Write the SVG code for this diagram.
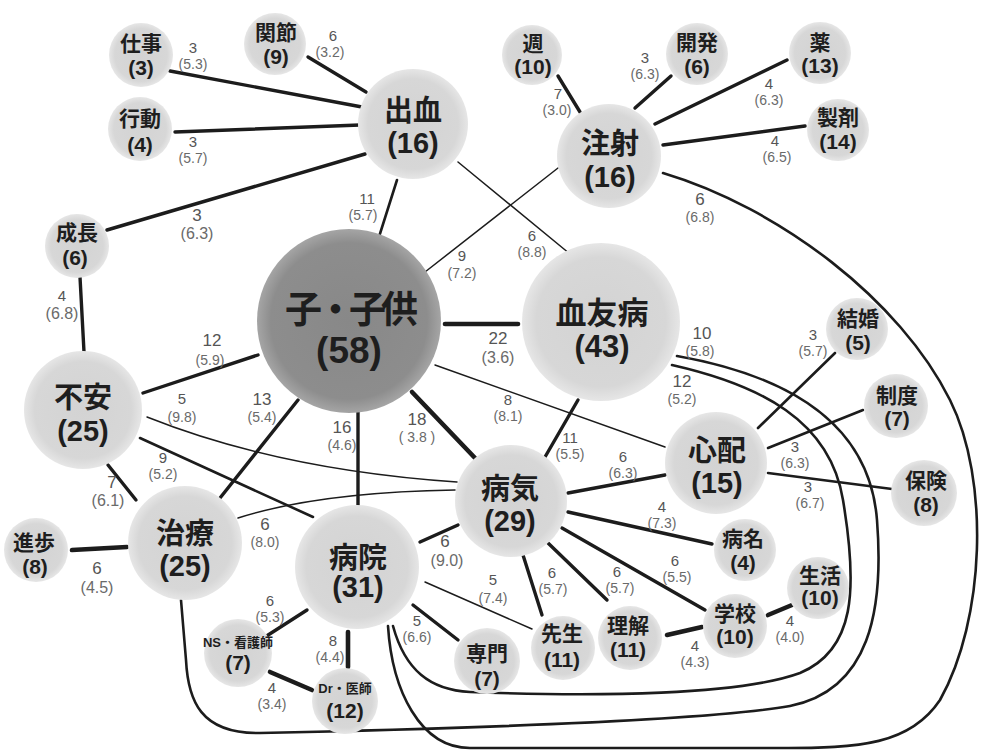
<svg xmlns="http://www.w3.org/2000/svg" width="981" height="752" viewBox="0 0 981 752">
<defs>
<radialGradient id="g" cx="50%" cy="50%" r="50%">
<stop offset="0" stop-color="#d3d3d3"/><stop offset="0.82" stop-color="#d7d7d7"/><stop offset="1" stop-color="#e6e6e6"/>
</radialGradient>
<radialGradient id="gd" cx="50%" cy="50%" r="50%">
<stop offset="0" stop-color="#888888"/><stop offset="0.85" stop-color="#8d8d8d"/><stop offset="1" stop-color="#a5a5a5"/>
</radialGradient>
<style>
text{font-family:"Liberation Sans","Noto Sans CJK JP",sans-serif;text-anchor:middle}
.n{fill:url(#g)}
.nd{fill:url(#gd)}
.lb{font-weight:bold;fill:#1e1e1e}
.s{font-size:21px}
.m{font-size:29px}
.e{fill:none;stroke:#1c1c1c;stroke-linecap:round}
.w1{stroke-width:1.5}
.w2{stroke-width:2.6}
.w3{stroke-width:3.4}
.w4{stroke-width:4.6}
.l{font-size:14px;fill:#6a6a6a}
.nu{font-size:15px;fill:#555}
.nuL{font-size:17px;fill:#555}
.paL{font-size:16px}
</style>
</defs>
<rect width="981" height="752" fill="#ffffff"/>
<g id="connectors">
<line class="e w3" x1="170" y1="71" x2="362" y2="107"/>
<line class="e w3" x1="308" y1="57" x2="366" y2="92"/>
<line class="e w3" x1="175" y1="132" x2="360" y2="125"/>
<line class="e w3" x1="107" y1="230" x2="365" y2="154"/>
<line class="e w2" x1="397" y1="180" x2="378" y2="240"/>
<line class="e w1" x1="458" y1="162" x2="570" y2="254"/>
<line class="e w1" x1="558" y1="168" x2="425" y2="272"/>
<line class="e w3" x1="558" y1="76" x2="580" y2="112"/>
<line class="e w3" x1="671" y1="76" x2="635" y2="108"/>
<line class="e w3" x1="787" y1="60" x2="655" y2="124"/>
<line class="e w3" x1="805" y1="126" x2="663" y2="145"/>
<path class="e w2" d="M663,173 C780,208 900,300 950,400 C990,480 985,620 940,700 C910,745 860,748 780,748 L470,748 C420,748 392,690 388,626"/>
<path class="e w2" d="M677,356 C800,378 870,430 877,520 C884,610 870,690 790,706 C700,722 400,730 260,733 C200,734 188,700 186,660 L181,600"/>
<path class="e w2" d="M672,365 C760,385 830,420 843,500 C858,590 855,650 800,673 C740,695 600,697 470,692 C430,690 405,670 393,626"/>
<line class="e w4" x1="445" y1="324" x2="518" y2="324"/>
<line class="e w1" x1="435" y1="365" x2="665" y2="447"/>
<line class="e w4" x1="412" y1="392" x2="475" y2="458"/>
<line class="e w3" x1="358" y1="412" x2="358" y2="505"/>
<line class="e w3" x1="298" y1="400" x2="220" y2="498"/>
<line class="e w3" x1="143" y1="393" x2="258" y2="355"/>
<line class="e w3" x1="578" y1="400" x2="545" y2="457"/>
<line class="e w3" x1="80" y1="277" x2="84" y2="352"/>
<path class="e w1" d="M147,417 Q280,470 457,482"/>
<line class="e w2" x1="140" y1="438" x2="313" y2="517"/>
<line class="e w3" x1="108" y1="465" x2="136" y2="500"/>
<path class="e w1" d="M238,518 Q320,492 455,490"/>
<line class="e w4" x1="72" y1="550" x2="127" y2="547"/>
<line class="e w3" x1="420" y1="542" x2="458" y2="525"/>
<line class="e w1" x1="425" y1="582" x2="532" y2="629"/>
<line class="e w3" x1="413" y1="605" x2="458" y2="640"/>
<line class="e w3" x1="307" y1="610" x2="265" y2="637"/>
<line class="e w4" x1="348" y1="632" x2="348" y2="667"/>
<line class="e w4" x1="270" y1="672" x2="312" y2="690"/>
<line class="e w3" x1="568" y1="493" x2="665" y2="475"/>
<line class="e w3" x1="568" y1="512" x2="712" y2="544"/>
<line class="e w3" x1="562" y1="528" x2="705" y2="610"/>
<line class="e w3" x1="548" y1="543" x2="607" y2="600"/>
<line class="e w3" x1="523" y1="555" x2="542" y2="615"/>
<line class="e w4" x1="667" y1="635" x2="702" y2="627"/>
<line class="e w4" x1="768" y1="615" x2="792" y2="605"/>
<line class="e w2" x1="758" y1="428" x2="835" y2="353"/>
<line class="e w2" x1="768" y1="448" x2="863" y2="410"/>
<line class="e w2" x1="768" y1="473" x2="892" y2="489"/>
</g>
<g id="edge-labels">
<text class="l"><tspan class="nu" x="193" y="53">3</tspan><tspan x="193" y="69">(5.3)</tspan></text>
<text class="l"><tspan class="nu" x="333" y="41">6</tspan><tspan x="330" y="57">(3.2)</tspan></text>
<text class="l"><tspan class="nu" x="193" y="147">3</tspan><tspan x="193" y="163">(5.7)</tspan></text>
<text class="l"><tspan class="nuL" x="197" y="221">3</tspan><tspan class="paL" x="197" y="239">(6.3)</tspan></text>
<text class="l"><tspan class="nu" x="367" y="204">11</tspan><tspan x="363" y="220">(5.7)</tspan></text>
<text class="l"><tspan class="nu" x="532" y="241">6</tspan><tspan x="532" y="257">(8.8)</tspan></text>
<text class="l"><tspan class="nu" x="462" y="261">9</tspan><tspan x="462" y="278">(7.2)</tspan></text>
<text class="l"><tspan class="nu" x="558" y="99">7</tspan><tspan x="557" y="115">(3.0)</tspan></text>
<text class="l"><tspan class="nu" x="645" y="63">3</tspan><tspan x="645" y="79">(6.3)</tspan></text>
<text class="l"><tspan class="nu" x="769" y="89">4</tspan><tspan x="769" y="105">(6.3)</tspan></text>
<text class="l"><tspan class="nu" x="775" y="146">4</tspan><tspan x="777" y="162">(6.5)</tspan></text>
<text class="l"><tspan class="nuL" x="700" y="205">6</tspan><tspan x="700" y="222">(6.8)</tspan></text>
<text class="l"><tspan class="nuL" x="702" y="339">10</tspan><tspan x="700" y="356">(5.8)</tspan></text>
<text class="l"><tspan class="nuL" x="682" y="387">12</tspan><tspan x="682" y="404">(5.2)</tspan></text>
<text class="l"><tspan class="nuL" x="498" y="344">22</tspan><tspan class="paL" x="498" y="363">(3.6)</tspan></text>
<text class="l"><tspan class="nu" x="508" y="405">8</tspan><tspan x="508" y="421">(8.1)</tspan></text>
<text class="l"><tspan class="nuL" x="417" y="425">18</tspan><tspan x="417" y="442">( 3.8 )</tspan></text>
<text class="l"><tspan class="nuL" x="342" y="433">16</tspan><tspan x="342" y="450">(4.6)</tspan></text>
<text class="l"><tspan class="nuL" x="262" y="405">13</tspan><tspan x="262" y="422">(5.4)</tspan></text>
<text class="l"><tspan class="nuL" x="212" y="346">12</tspan><tspan x="210" y="365">(5.9)</tspan></text>
<text class="l"><tspan class="nu" x="182" y="404">5</tspan><tspan x="182" y="422">(9.8)</tspan></text>
<text class="l"><tspan class="nu" x="163" y="463">9</tspan><tspan x="163" y="479">(5.2)</tspan></text>
<text class="l"><tspan class="nuL" x="112" y="488">7</tspan><tspan class="paL" x="108" y="506">(6.1)</tspan></text>
<text class="l"><tspan class="nu" x="62" y="301">4</tspan><tspan class="paL" x="62" y="319">(6.8)</tspan></text>
<text class="l"><tspan class="nuL" x="265" y="530">6</tspan><tspan x="265" y="547">(8.0)</tspan></text>
<text class="l"><tspan class="nuL" x="97" y="574">6</tspan><tspan class="paL" x="97" y="593">(4.5)</tspan></text>
<text class="l"><tspan class="nuL" x="445" y="547">6</tspan><tspan class="paL" x="447" y="566">(9.0)</tspan></text>
<text class="l"><tspan class="nu" x="493" y="585">5</tspan><tspan x="493" y="603">(7.4)</tspan></text>
<text class="l"><tspan class="nu" x="417" y="626">5</tspan><tspan x="417" y="642">(6.6)</tspan></text>
<text class="l"><tspan class="nu" x="270" y="606">6</tspan><tspan x="270" y="622">(5.3)</tspan></text>
<text class="l"><tspan class="nu" x="333" y="646">8</tspan><tspan x="330" y="662">(4.4)</tspan></text>
<text class="l"><tspan class="nu" x="272" y="693">4</tspan><tspan x="272" y="709">(3.4)</tspan></text>
<text class="l"><tspan class="nu" x="623" y="462">6</tspan><tspan x="623" y="478">(6.3)</tspan></text>
<text class="l"><tspan class="nu" x="570" y="443">11</tspan><tspan x="570" y="459">(5.5)</tspan></text>
<text class="l"><tspan class="nu" x="662" y="512">4</tspan><tspan x="662" y="528">(7.3)</tspan></text>
<text class="l"><tspan class="nu" x="675" y="566">6</tspan><tspan x="677" y="582">(5.5)</tspan></text>
<text class="l"><tspan class="nu" x="617" y="577">6</tspan><tspan x="620" y="593">(5.7)</tspan></text>
<text class="l"><tspan class="nu" x="552" y="578">6</tspan><tspan x="553" y="594">(5.7)</tspan></text>
<text class="l"><tspan class="nu" x="695" y="651">4</tspan><tspan x="695" y="667">(4.3)</tspan></text>
<text class="l"><tspan class="nu" x="790" y="626">4</tspan><tspan x="790" y="642">(4.0)</tspan></text>
<text class="l"><tspan class="nu" x="813" y="340">3</tspan><tspan x="813" y="356">(5.7)</tspan></text>
<text class="l"><tspan class="nu" x="795" y="452">3</tspan><tspan x="795" y="468">(6.3)</tspan></text>
<text class="l"><tspan class="nu" x="808" y="492">3</tspan><tspan x="810" y="508">(6.7)</tspan></text>
</g>
<g id="n-shigoto"><circle class="n" cx="141" cy="55" r="32"/><text class="lb s" x="141" y="51">仕事</text><text class="lb s" x="141" y="75">(3)</text></g>
<g id="n-kansetsu"><circle class="n" cx="275" cy="44" r="31"/><text class="lb s" x="276" y="40">関節</text><text class="lb s" x="276" y="64">(9)</text></g>
<g id="n-koudou"><circle class="n" cx="140" cy="129" r="32"/><text class="lb s" x="140" y="126">行動</text><text class="lb s" x="140" y="152">(4)</text></g>
<g id="n-shukketsu"><circle class="n" cx="413" cy="124" r="55"/><text class="lb m" x="413" y="121">出血</text><text class="lb m" x="413" y="153">(16)</text></g>
<g id="n-shuu"><circle class="n" cx="532" cy="55" r="30"/><text class="lb s" x="533" y="51">週</text><text class="lb s" x="533" y="74">(10)</text></g>
<g id="n-chuusha"><circle class="n" cx="609" cy="156" r="52"/><text class="lb m" x="610" y="154">注射</text><text class="lb m" x="610" y="187">(16)</text></g>
<g id="n-kaihatsu"><circle class="n" cx="697" cy="54" r="31"/><text class="lb s" x="697" y="50">開発</text><text class="lb s" x="697" y="74">(6)</text></g>
<g id="n-kusuri"><circle class="n" cx="820" cy="53" r="31"/><text class="lb s" x="820" y="50">薬</text><text class="lb s" x="820" y="73">(13)</text></g>
<g id="n-seizai"><circle class="n" cx="838" cy="130" r="31"/><text class="lb s" x="838" y="125">製剤</text><text class="lb s" x="838" y="149">(14)</text></g>
<g id="n-seichou"><circle class="n" cx="77" cy="246" r="32"/><text class="lb s" x="77" y="240">成長</text><text class="lb s" x="75" y="265">(6)</text></g>
<g id="n-kodomo"><circle class="nd" cx="349" cy="321" r="92"/><text class="lb" x="349" y="323" font-size="37" letter-spacing="-5" fill="#151515">子・子供</text><text class="lb" x="349" y="363" font-size="37" fill="#151515">(58)</text></g>
<g id="n-ketsuyuubyou"><circle class="n" cx="601" cy="322" r="79"/><text class="lb" x="602" y="324" font-size="31">血友病</text><text class="lb" x="602" y="357" font-size="31">(43)</text></g>
<g id="n-kekkon"><circle class="n" cx="857" cy="329" r="31"/><text class="lb s" x="858" y="326">結婚</text><text class="lb s" x="858" y="350">(5)</text></g>
<g id="n-seido"><circle class="n" cx="896" cy="406" r="32"/><text class="lb s" x="897" y="403">制度</text><text class="lb s" x="897" y="426">(7)</text></g>
<g id="n-fuan"><circle class="n" cx="83" cy="410" r="59"/><text class="lb m" x="83" y="408">不安</text><text class="lb m" x="83" y="441">(25)</text></g>
<g id="n-shinpai"><circle class="n" cx="716" cy="463" r="51"/><text class="lb m" x="717" y="461">心配</text><text class="lb m" x="717" y="493">(15)</text></g>
<g id="n-hoken"><circle class="n" cx="924" cy="493" r="33"/><text class="lb s" x="926" y="488">保険</text><text class="lb s" x="926" y="512">(8)</text></g>
<g id="n-byouki"><circle class="n" cx="511" cy="501" r="56"/><text class="lb m" x="510" y="499">病気</text><text class="lb m" x="510" y="531">(29)</text></g>
<g id="n-chiryou"><circle class="n" cx="185" cy="543" r="57"/><text class="lb m" x="185" y="544">治療</text><text class="lb m" x="185" y="576">(25)</text></g>
<g id="n-shinpo"><circle class="n" cx="36" cy="550" r="32"/><text class="lb s" x="34" y="550">進歩</text><text class="lb s" x="35" y="574">(8)</text></g>
<g id="n-byouin"><circle class="n" cx="357" cy="567" r="62"/><text class="lb m" x="358" y="568">病院</text><text class="lb m" x="358" y="597">(31)</text></g>
<g id="n-kangoshi"><circle class="n" cx="238" cy="653" r="34"/><text class="lb" x="238" y="647" font-size="13">NS・看護師</text><text class="lb s" x="238" y="670">(7)</text></g>
<g id="n-ishi"><circle class="n" cx="345" cy="701" r="33"/><text class="lb" x="345" y="693" font-size="13">Dr・医師</text><text class="lb s" x="345" y="718">(12)</text></g>
<g id="n-senmon"><circle class="n" cx="487" cy="661" r="33"/><text class="lb s" x="487" y="661">専門</text><text class="lb s" x="487" y="686">(7)</text></g>
<g id="n-sensei"><circle class="n" cx="563" cy="648" r="32"/><text class="lb s" x="562" y="641">先生</text><text class="lb s" x="562" y="667">(11)</text></g>
<g id="n-rikai"><circle class="n" cx="630" cy="638" r="32"/><text class="lb s" x="628" y="633">理解</text><text class="lb s" x="628" y="657">(11)</text></g>
<g id="n-byoumei"><circle class="n" cx="745" cy="550" r="31"/><text class="lb s" x="743" y="546">病名</text><text class="lb s" x="743" y="570">(4)</text></g>
<g id="n-seikatsu"><circle class="n" cx="818" cy="588" r="31"/><text class="lb s" x="820" y="583">生活</text><text class="lb s" x="820" y="605">(10)</text></g>
<g id="n-gakkou"><circle class="n" cx="735" cy="626" r="32"/><text class="lb s" x="735" y="621">学校</text><text class="lb s" x="735" y="644">(10)</text></g>
</svg>
